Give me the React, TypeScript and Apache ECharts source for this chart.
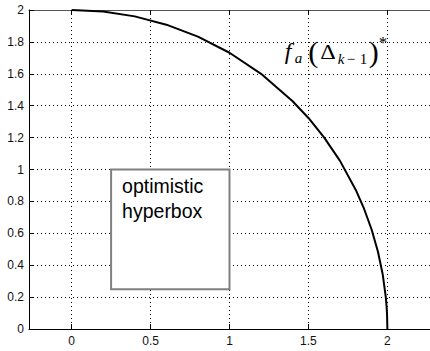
import React, { useEffect, useRef } from "react";
import * as echarts from "echarts";

// Axis ticks
const X_TICKS = [0, 0.5, 1, 1.5, 2];
const X_RANGE = [-0.27, 2.27];
const Y_RANGE = [0, 2];
const Y_STEP = 0.2;

// Pareto front curve (quarter circle of radius 2)
const CURVE_X = [0, 0.2, 0.4, 0.6, 0.8, 1.0, 1.2, 1.4, 1.5, 1.6, 1.7, 1.8, 1.85, 1.9, 1.94, 1.97, 1.99, 1.995, 1.998, 2.0];
const CURVE_Y = [2, 1.99, 1.96, 1.908, 1.833, 1.732, 1.6, 1.428, 1.323, 1.2, 1.054, 0.872, 0.76, 0.624, 0.486, 0.345, 0.2, 0.141, 0.089, 0];

// Optimistic hyperbox: [xMin, yMin, xMax, yMax]
const BOX = [0.25, 0.25, 1, 1];
const BOX_LABEL = "optimistic\nhyperbox";

// Anchor (data coords) of the f_a(Δ_{k-1})^* label, at the baseline of "f"
const CURVE_LABEL_POS = [1.35, 1.69];

const SANS = '"Liberation Sans", Arial, Helvetica, sans-serif';
const SERIF = '"Liberation Serif", "DejaVu Serif", "Times New Roman", serif';

export default function App() {
  const ref = useRef<HTMLDivElement>(null);

  useEffect(() => {
    if (!ref.current) return;
    const chart = echarts.init(ref.current, null, { renderer: "svg" });

    const gridDots = { show: true, lineStyle: { color: "#000", width: 1, type: [1, 3] as any } };

    const option: any = {
      animation: false,
      backgroundColor: "#fff",
      grid: { left: 29, top: 10, width: 405, height: 319, containLabel: false },
      xAxis: [
        {
          type: "value",
          min: X_RANGE[0],
          max: X_RANGE[1],
          axisLine: { show: true, onZero: false, lineStyle: { color: "#000", width: 1 } },
          axisTick: { show: true, inside: true, length: 5, customValues: X_TICKS, lineStyle: { color: "#000" } },
          axisLabel: {
            customValues: X_TICKS,
            margin: 6,
            fontSize: 12,
            fontFamily: SANS,
            color: "#111",
            formatter: (v: number) => String(v),
          },
          splitLine: gridDots,
        },
        {
          type: "value",
          position: "top",
          min: X_RANGE[0],
          max: X_RANGE[1],
          axisLine: { show: true, onZero: false, lineStyle: { color: "#555", width: 1 } },
          axisTick: { show: true, inside: true, length: 5, customValues: X_TICKS, lineStyle: { color: "#000" } },
          axisLabel: { show: false },
          splitLine: { show: false },
        },
      ],
      yAxis: {
        type: "value",
        min: Y_RANGE[0],
        max: Y_RANGE[1],
        interval: Y_STEP,
        axisLine: { show: true, onZero: false, lineStyle: { color: "#000", width: 1 } },
        axisTick: { show: true, inside: true, length: 5, lineStyle: { color: "#000" } },
        axisLabel: {
          margin: 5,
          fontSize: 12,
          fontFamily: SANS,
          color: "#111",
          formatter: (v: number) => String(Math.round(v * 10) / 10),
        },
        splitLine: gridDots,
      },
      series: [
        {
          type: "line",
          xAxisIndex: 0,
          data: CURVE_X.map((x, i) => [x, CURVE_Y[i]]),
          showSymbol: false,
          symbol: "none",
          smooth: false,
          lineStyle: { color: "#000", width: 2 },
          z: 3,
        },
        {
          type: "custom",
          xAxisIndex: 0,
          z: 4,
          encode: { x: [0, 2], y: [1, 3] },
          data: [BOX],
          renderItem: (_params: any, api: any) => {
            const p0 = api.coord([api.value(0), api.value(3)]);
            const p1 = api.coord([api.value(2), api.value(1)]);
            return {
              type: "group",
              children: [
                {
                  type: "rect",
                  shape: { x: p0[0], y: p0[1], width: p1[0] - p0[0], height: p1[1] - p0[1] },
                  style: { fill: "#fff", stroke: "#808080", lineWidth: 2 },
                },
                {
                  type: "text",
                  x: p0[0] + 11,
                  y: p0[1] + 4,
                  style: {
                    text: BOX_LABEL,
                    fontSize: 19.5,
                    lineHeight: 25,
                    fontFamily: SANS,
                    fill: "#000",
                    align: "left",
                    verticalAlign: "top",
                  },
                },
              ],
            };
          },
        },
        {
          type: "custom",
          xAxisIndex: 0,
          z: 5,
          data: [CURVE_LABEL_POS],
          renderItem: (_params: any, api: any) => {
            const [px, py] = api.coord([api.value(0), api.value(1)]);
            // place a glyph run with its alphabetic baseline at py + dy
            const t = (text: string, dx: number, dy: number, size: number, italic: boolean, sx = 1) => ({
              type: "text",
              x: px + dx,
              y: py + dy - 0.34 * size,
              scaleX: sx,
              style: {
                text,
                fontSize: size,
                fontFamily: SERIF,
                fontStyle: italic ? "italic" : "normal",
                fill: "#000",
                align: "left",
                verticalAlign: "middle",
              },
            });
            return {
              type: "group",
              children: [
                t("f", 0, 0, 24, true),
                t("a", 10, 4, 15, true),
                t("(", 23.5, 2, 30, false),
                t("\u0394", 35.5, 0, 21, false, 1.15),
                t("k", 53, 5, 15, true),
                t("\u2212", 62, 5, 15, false),
                t("1", 75, 5, 15, false),
                t(")", 84, 2, 30, false),
                t("*", 94, -11, 17, false),
              ],
            };
          },
        },
      ],
    };

    chart.setOption(option);
    return () => chart.dispose();
  }, []);

  return (
    <div
      ref={ref}
      style={{ position: "fixed", left: 0, top: 0, width: 430, height: 351, background: "#fff" }}
    />
  );
}
